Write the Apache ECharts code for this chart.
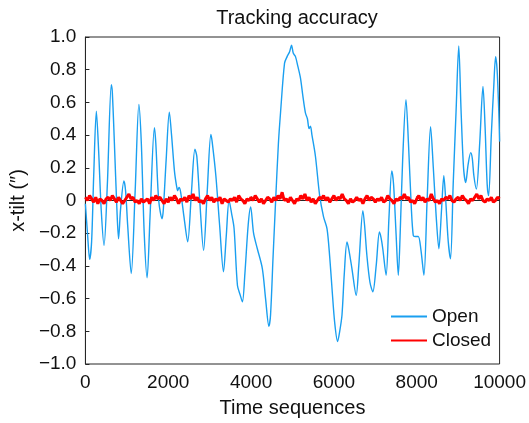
<!DOCTYPE html>
<html>
<head>
<meta charset="utf-8">
<script src="https://cdn.jsdelivr.net/npm/echarts@6/dist/echarts.min.js"></script>
<style>html,body{margin:0;padding:0;background:#fff}#c{width:529px;height:423px}</style>
</head>
<body>
<div id="c"></div>
<script>
// ---- data ----
const chartTitle = 'Tracking accuracy';
const xName = 'Time sequences';
const yName = 'x-tilt (\u2033)';
const seriesNames = ['Open', 'Closed'];
const xTicks = [0, 2000, 4000, 6000, 8000, 10000];
const yTicks = [-1.0, -0.8, -0.6, -0.4, -0.2, 0, 0.2, 0.4, 0.6, 0.8, 1.0];

const openT = [0,50,103,150,200,264,320,380,450,530,625,650,700,760,800,850,930,970,1020,1106,1200,1291,1350,1420,1490,1560,1666,1700,1770,1851,1880,1950,2026,2080,2150,2200,2228,2260,2300,2380,2469,2560,2644,2690,2760,2853,2940,3029,3060,3150,3240,3334,3400,3469,3530,3589,3671,3740,3791,3850,3930,3990,4060,4151,4272,4350,4430,4470,4530,4591,4660,4712,4808,4870,4930,4976,5020,5072,5130,5192,5250,5312,5360,5400,5433,5470,5553,5656,5750,5834,5900,5954,6020,6089,6140,6195,6250,6315,6360,6435,6538,6600,6700,6740,6796,6870,6940,7020,7099,7140,7180,7260,7330,7397,7440,7500,7555,7600,7660,7740,7800,7870,7916,7960,8036,8100,8173,8250,8334,8400,8470,8534,8600,8654,8700,8760,8815,8880,8950,9014,9070,9130,9183,9240,9303,9340,9380,9440,9520,9599,9650,9700,9736,9800,9860,9904,9940,9980,10000];
const openV = [-0.02,-0.20,-0.36,-0.25,0.15,0.546,0.30,-0.05,-0.275,0.10,0.708,0.66,0.35,-0.05,-0.234,-0.05,0.12,0.06,-0.15,-0.447,0.05,0.587,0.35,-0.20,-0.473,-0.10,0.445,0.35,0.0,-0.112,-0.06,0.25,0.54,0.40,0.18,0.09,0.06,0.08,0.05,-0.10,-0.252,0.05,0.313,0.27,0.0,-0.305,0.05,0.404,0.36,0.15,-0.15,-0.436,-0.22,0.0,-0.08,-0.17,-0.52,-0.58,-0.62,-0.45,-0.15,-0.04,-0.20,-0.295,-0.416,-0.60,-0.77,-0.70,-0.35,-0.01,0.35,0.54,0.84,0.88,0.91,0.95,0.90,0.88,0.82,0.75,0.64,0.536,0.50,0.44,0.455,0.40,0.272,0.03,-0.10,-0.173,-0.35,-0.538,-0.75,-0.862,-0.80,-0.70,-0.45,-0.254,-0.30,-0.416,-0.58,-0.40,-0.062,-0.15,-0.335,-0.50,-0.558,-0.40,-0.193,-0.23,-0.295,-0.457,-0.10,0.181,0.10,-0.20,-0.457,-0.20,0.25,0.617,0.35,-0.05,-0.214,-0.22,-0.22,-0.30,-0.457,0.0,0.451,0.20,-0.10,-0.295,-0.05,0.151,0.0,-0.25,-0.356,0.10,0.55,0.945,0.55,0.20,0.11,0.22,0.293,0.26,0.15,0.07,0.35,0.698,0.45,0.10,0.03,0.40,0.70,0.88,0.80,0.55,0.36];

const closedStep = 50;
const closedV = [
0.02,0.0,0.03,0.01,-0.01,0.02,-0.02,0.01,0.0,-0.02,
0.01,0.02,0.0,0.03,0.01,-0.01,0.02,0.0,-0.02,0.0,
0.02,0.04,0.01,0.02,-0.01,0.0,-0.02,0.01,-0.01,0.0,
0.01,-0.02,0.02,0.0,0.03,0.01,0.02,0.0,-0.02,0.01,
-0.01,0.02,0.0,0.03,0.01,-0.02,0.01,0.0,0.02,-0.01,
0.03,0.01,0.04,0.0,0.02,-0.01,0.0,-0.02,0.01,0.03,
0.0,0.02,-0.01,0.01,0.0,0.02,-0.02,0.01,0.0,-0.01,
0.01,0.0,0.02,-0.01,0.03,0.01,0.0,-0.02,0.01,0.0,
0.02,0.0,0.03,0.01,-0.01,0.01,-0.02,0.0,0.02,0.01,
-0.01,0.02,0.0,0.03,0.01,0.05,0.0,0.01,-0.01,0.02,
0.0,-0.02,0.01,0.0,0.03,0.01,0.04,0.0,0.02,-0.01,
0.01,-0.02,0.0,0.02,0.01,0.03,0.0,0.02,-0.01,0.01,
0.03,0.0,0.02,0.01,0.04,0.01,0.0,-0.02,0.01,-0.01,
0.0,0.02,0.0,0.01,-0.02,0.01,0.03,0.0,0.02,0.01,
-0.01,0.01,0.0,0.02,-0.01,0.0,0.03,0.01,0.0,-0.02,
0.01,0.0,0.02,0.01,0.04,0.01,0.02,-0.01,0.0,-0.02,
0.01,0.03,0.0,0.02,-0.01,0.01,0.0,0.04,0.01,-0.01,
0.0,-0.02,0.01,0.0,0.02,0.01,0.03,0.0,-0.01,0.01,
0.02,0.0,0.03,0.01,0.0,-0.02,0.01,0.0,0.02,0.04,
0.01,0.03,0.0,-0.01,0.01,0.0,0.02,-0.01,0.0,0.02,
0.01];

// ---- build chart ----
const openData = openT.map((t, i) => [t, openV[i]]);
const closedData = closedV.map((v, i) => [i * closedStep, v]);
const FONT = 'Liberation Sans, Arial, Helvetica, sans-serif';
const TXT = '#111';
const AX = '#262626';
const LINE_ICON = 'path://M0,0H36V2H0Z';

function yFmt(v) {
  if (Math.abs(v) < 1e-9) return '0';
  const s = Math.abs(v).toFixed(1);
  return (v < 0 ? '\u2212' : '') + s;
}

const chart = echarts.init(document.getElementById('c'), null, {renderer: 'canvas'});
chart.setOption({
  animation: false,
  backgroundColor: '#fff',
  title: {
    text: chartTitle, left: 292, top: 3, textAlign: 'center',
    textStyle: {fontFamily: FONT, fontSize: 20, fontWeight: 'normal', color: TXT}
  },
  grid: {left: 84, right: 29, top: 37, bottom: 57, show: true, borderColor: AX, borderWidth: 1, backgroundColor: 'transparent'},
  legend: {
    orient: 'vertical', left: 386, top: 302, itemGap: 5, itemWidth: 36, itemHeight: 2,
    data: seriesNames.map(n => ({name: n, icon: LINE_ICON})),
    textStyle: {fontFamily: FONT, fontSize: 19, color: TXT},
    backgroundColor: 'transparent'
  },
  xAxis: {
    type: 'value', min: xTicks[0], max: xTicks[xTicks.length - 1], interval: 2000,
    name: xName, nameLocation: 'middle', nameGap: 34,
    nameTextStyle: {fontFamily: FONT, fontSize: 20, color: TXT},
    axisLine: {show: true, lineStyle: {color: AX, width: 1}},
    axisTick: {show: true, inside: true, length: 4, lineStyle: {color: AX}},
    axisLabel: {fontFamily: FONT, fontSize: 19, color: TXT, margin: 9, formatter: v => String(v)},
    splitLine: {show: false}
  },
  yAxis: {
    type: 'value', min: yTicks[0], max: yTicks[yTicks.length - 1], interval: 0.2,
    name: yName, nameLocation: 'middle', nameGap: 54, nameRotate: 90,
    nameTextStyle: {fontFamily: FONT, fontSize: 20, color: TXT},
    axisLine: {show: true, lineStyle: {color: AX, width: 1}},
    axisTick: {show: true, inside: true, length: 4, lineStyle: {color: AX}},
    axisLabel: {fontFamily: FONT, fontSize: 19, color: TXT, margin: 9, formatter: yFmt},
    splitLine: {show: false}
  },
  series: [
    {
      name: seriesNames[0], type: 'line', data: openData, showSymbol: false, symbol: 'none',
      smooth: 0.3, lineStyle: {color: '#1a9ff0', width: 1.4}, itemStyle: {color: '#1a9ff0'}, z: 2
    },
    {
      name: seriesNames[1], type: 'line', data: closedData, showSymbol: false, symbol: 'none',
      lineStyle: {color: '#ff0000', width: 3}, itemStyle: {color: '#ff0000'}, z: 3
    }
  ]
});
</script>
</body>
</html>
